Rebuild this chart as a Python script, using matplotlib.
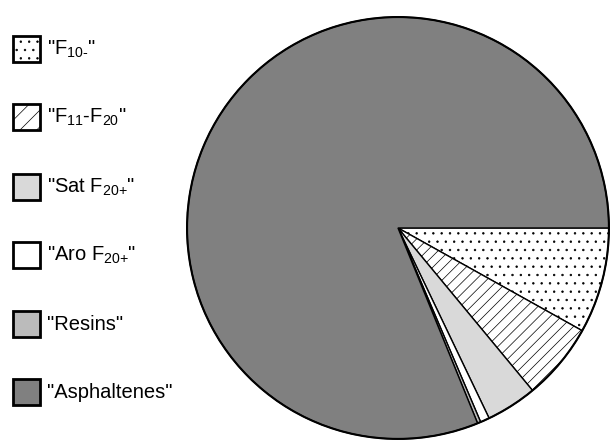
import matplotlib
matplotlib.use("Agg")
import matplotlib.pyplot as plt
from matplotlib.patches import Rectangle

# fractions (%), clockwise from 3 o'clock
labels = ['"F$_{10\u2010}$"', '"F$_{11}$-F$_{20}$"', '"Sat F$_{20{+}}$"',
          '"Aro F$_{20{+}}$"', '"Resins"', '"Asphaltenes"']
values = [8.1, 5.9, 3.9, 0.7, 0.25, 81.2]
colors = ['white', 'white', '#d9d9d9', 'white', '#bbbbbb', '#808080']
hatches = ['..', '///', '', '', '', '']

plt.rcParams['font.family'] = ['Liberation Sans', 'DejaVu Sans']
plt.rcParams['mathtext.fontset'] = 'custom'
plt.rcParams['mathtext.rm'] = 'Liberation Sans'
plt.rcParams['mathtext.it'] = 'Liberation Sans'
plt.rcParams['hatch.linewidth'] = 0.5

fig = plt.figure(figsize=(6.12, 4.41), dpi=100)
ax = fig.add_axes([0.3039, 0.0023, 0.6928, 0.9615])

wedges, _ = ax.pie(values, colors=colors, startangle=0, counterclock=False,
                   wedgeprops=dict(edgecolor='black', linewidth=1.0))
for w, h in zip(wedges, hatches):
    w.set_hatch(h)
ax.set_xlim(-1.005, 1.005)
ax.set_ylim(-1.005, 1.005)
ax.set_aspect('equal')

# outer circle a bit heavier
circle = plt.Circle((0, 0), 1, fill=False, edgecolor='black', linewidth=1.5)
ax.add_patch(circle)

# legend on the left
y_pos = [49, 117, 187, 255, 324, 392]
for lab, col, h, yp in zip(labels, colors, hatches, y_pos):
    box = Rectangle((13 / 612, 1 - (yp + 13) / 441), 27 / 612, 26 / 441,
                    transform=fig.transFigure, facecolor=col,
                    hatch=h.replace('///', '//'),
                    edgecolor='black', linewidth=2)
    fig.add_artist(box)
    fig.text(47 / 612, 1 - yp / 441, lab, fontsize=14.5, va='center', ha='left')

fig.savefig('out.png', dpi=100)
